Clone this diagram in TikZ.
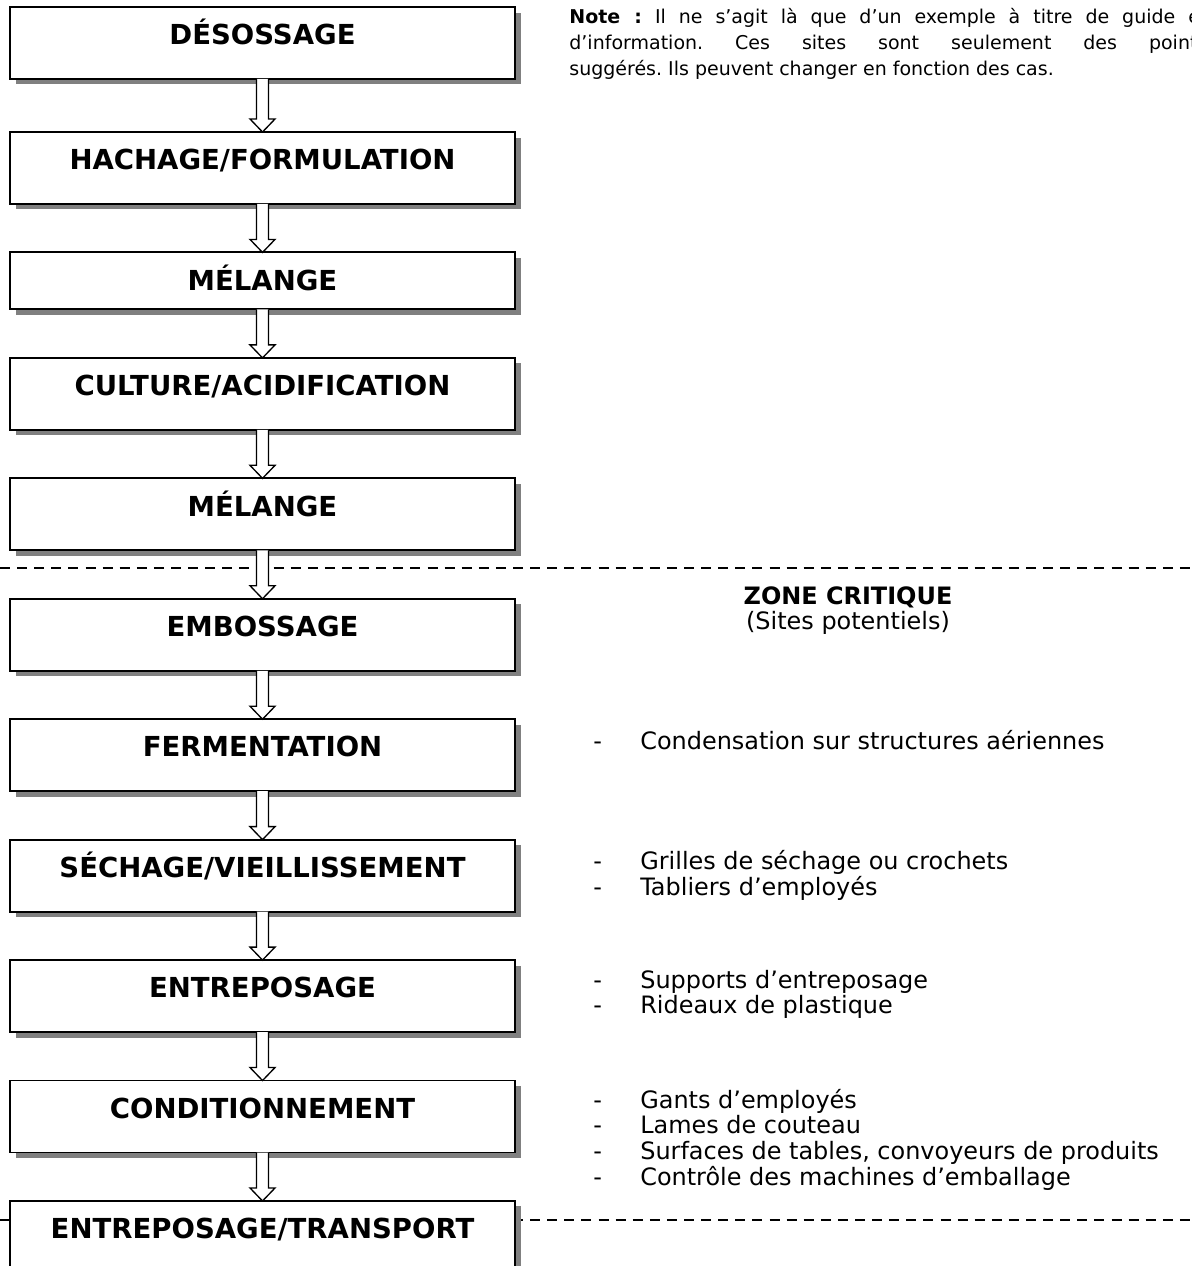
\documentclass[tikz,border=0pt]{standalone}
\usepackage{fontspec}
\setmainfont{DejaVu Sans}
\frenchspacing
\usetikzlibrary{positioning,calc,shadows}

\tikzset{
  stepbox/.style={draw, line width=1pt, fill=white, minimum width=265.8pt, inner ysep=0pt, outer sep=0pt,
    text height=19.84pt, text depth=18.05pt, font=\bfseries\fontsize{14.5}{17}\selectfont,
    drop shadow={shadow xshift=2.9pt, shadow yshift=-2.9pt, fill=black!50, opacity=1}},
  flowarrow/.style={draw, fill=white, line width=0.7pt,
    to path={($(\tikztostart.south)+(-6,0)$) -- ($(\tikztotarget.north)+(-6,-13)$) -- ++(-6.5,0)
      -- (\tikztotarget.north) -- ($(\tikztotarget.north)+(12.5,-13)$) -- ++(-6.5,0) -- ($(\tikztostart.south)+(6,0)$)}},
  sites/.style={inner sep=0pt, anchor=base west, font=\fontsize{12.6}{13.1}\selectfont},
  zoneline/.style={dash pattern=on 5.3pt off 3.7pt, line width=0.6pt}
}

\begin{document}
\begin{tikzpicture}[x=0.52632pt, y=-0.52632pt, node distance=25.5pt]
  \useasboundingbox (0,0) rectangle (1191,1266);
  \clip (0,0) rectangle (1191,1266);

  % limites de la zone critique
  \draw[zoneline] (0,568) -- (1191,568);
  \draw[zoneline] (0,1220) -- (1191,1220);

  % etapes
  \node[stepbox, anchor=north west] (1) at (10,7) {DÉSOSSAGE};
  \node[stepbox, below=27.9pt of 1] (2) {HACHAGE/FORMULATION};
  \node[stepbox, below=of 2, text depth=10.16pt] (3) {MÉLANGE};
  \node[stepbox, below=of 3] (4) {CULTURE/ACIDIFICATION};
  \node[stepbox, below=of 4] (5) {MÉLANGE};
  \node[stepbox, below=of 5] (6) {EMBOSSAGE};
  \node[stepbox, below=of 6] (7) {FERMENTATION};
  \node[stepbox, below=of 7] (8) {SÉCHAGE/VIEILLISSEMENT};
  \node[stepbox, below=of 8] (9) {ENTREPOSAGE};
  \node[stepbox, below=of 9] (10) {CONDITIONNEMENT};
  \node[stepbox, below=of 10] (11) {ENTREPOSAGE/TRANSPORT};

  \draw[flowarrow] (1) to (2);
  \draw[flowarrow] (2) to (3);
  \draw[flowarrow] (3) to (4);
  \draw[flowarrow] (4) to (5);
  \draw[flowarrow] (5) to (6);
  \draw[flowarrow] (6) to (7);
  \draw[flowarrow] (7) to (8);
  \draw[flowarrow] (8) to (9);
  \draw[flowarrow] (9) to (10);
  \draw[flowarrow] (10) to (11);

  % textes de droite
  \node[inner sep=0pt, anchor=base west, font=\fontsize{10}{13.6}\selectfont] (note) at (569,24)
    {\begin{tabular}[t]{@{}p{335.8pt}@{}}\textbf{Note :} Il ne s’agit là que d’un exemple à titre de guide et\linebreak d’information. Ces sites sont seulement des points\linebreak suggérés. Ils peuvent changer en fonction des cas.\end{tabular}};
  \node[inner sep=0pt, anchor=base, font=\fontsize{12.6}{13.1}\selectfont] (zc) at (848,604)
    {\begin{tabular}[t]{@{}c@{}}\textbf{ZONE CRITIQUE}\\(Sites potentiels)\end{tabular}};
  \node[sites] (s7) at (593,749) {\begin{tabular}[t]{@{}p{24.7pt}@{}l@{}}
    -&Condensation sur structures aériennes\end{tabular}};
  \node[sites] (s8) at (593,869) {\begin{tabular}[t]{@{}p{24.7pt}@{}l@{}}
    -&Grilles de séchage ou crochets\\-&Tabliers d’employés\end{tabular}};
  \node[sites] (s9) at (593,988) {\begin{tabular}[t]{@{}p{24.7pt}@{}l@{}}
    -&Supports d’entreposage\\-&Rideaux de plastique\end{tabular}};
  \node[sites] (s10) at (593,1108) {\begin{tabular}[t]{@{}p{24.7pt}@{}l@{}}
    -&Gants d’employés\\-&Lames de couteau\\-&Surfaces de tables, convoyeurs de produits\\-&Contrôle des machines d’emballage\end{tabular}};
\end{tikzpicture}
\end{document}
